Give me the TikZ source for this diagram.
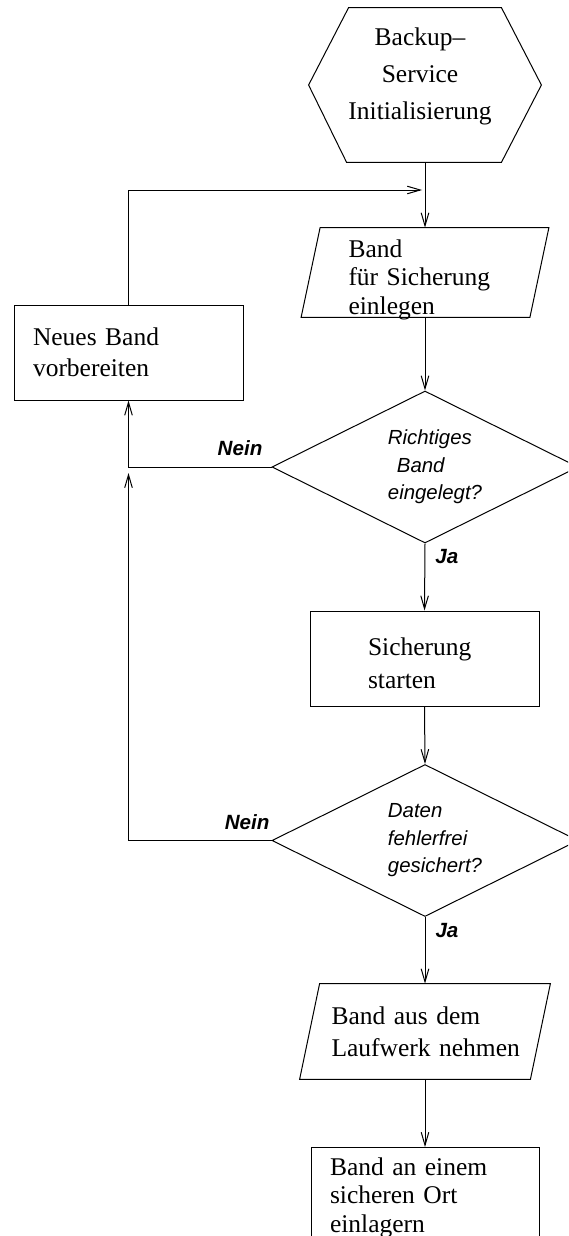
\documentclass[tikz,border=0pt]{standalone}
\usepackage{fontspec}
\setmainfont{Liberation Serif}
\setsansfont{Liberation Sans}
\usepackage{tikz}
\usetikzlibrary{positioning,arrows.meta,calc,shapes.geometric}

\newcommand{\ind}{\hspace*{10pt}}

\begin{document}
\begin{tikzpicture}[x=0.5pt, y=-0.5pt,
  txt/.style={font=\fontsize{12.75}{#1}\selectfont},
  hexbox/.style={rectangle, minimum width=116pt, minimum height=77pt, inner sep=0pt},
  proc/.style={rectangle, draw, line width=0.5pt, align=left, inner ysep=2pt},
  parabox/.style={rectangle, inner sep=0pt},
  outline/.style={line width=0.5pt},
  decision/.style={diamond, draw, line width=0.5pt, aspect=2, inner sep=0pt,
                   minimum width=153pt, minimum height=76pt, align=left,
                   font=\sffamily\itshape\fontsize{10.2}{13.75}\selectfont},
  lbl/.style={font=\sffamily\bfseries\itshape\fontsize{10.3}{12}\selectfont, inner sep=2pt},
  arw/.style={-{Straight Barb[length=6.5pt, width=3.8pt]}, line width=0.5pt}]
  \useasboundingbox (0,0) rectangle (568,1236);
  \clip (0,0) rectangle (568,1236);
  % main column
  \node[hexbox, label={[txt=18.5pt, align=center, yshift=4.5pt, xshift=-2.5pt]center:{Backup–\\Service\\Initialisierung}}]
    (init) at (425,85) {};
  \draw[outline] (init.west) -- ($(init.north west)+(40,0)$) -- ($(init.north east)+(-40,0)$)
    -- (init.east) -- ($(init.south east)+(-40,0)$) -- ($(init.south west)+(38,0)$) -- cycle;
  \node[parabox, minimum width=123.5pt, minimum height=44.5pt,
        label={[txt=14.25pt, align=left, text width=77.5pt, xshift=0.5pt, yshift=-3.5pt]center:{Band\\für Sicherung\\einlegen}}]
    (band) at (425,272.5) {};
  \draw[outline] ($(band.north west)+(19,0)$) -- (band.north east)
    -- ($(band.south east)+(-19,0)$) -- (band.south west) -- cycle;
  \node[decision] (q1) at (425,467) {\ind Richtiges\\\ind\hspace*{4.5pt}Band\\\ind eingelegt?};
  \node[proc, minimum width=114.5pt, minimum height=47.5pt,
        label={[txt=16.5pt, align=left, text width=56.5pt, yshift=-2.5pt]center:{Sicherung\\starten}}]
    (start) at (424.5,658.5) {};
  \node[decision] (q2) at (425,840.5) {\ind Daten\\\ind fehlerfrei\\\ind gesichert?};
  \node[parabox, minimum width=125pt, minimum height=47.5pt,
        label={[txt=16pt, align=left, text width=96.5pt, xshift=1.5pt]center:{Band aus dem\\Laufwerk nehmen}}]
    (take) at (425,1031.5) {};
  \draw[outline] ($(take.north west)+(20,0)$) -- (take.north east)
    -- ($(take.south east)+(-20,0)$) -- (take.south west) -- cycle;
  \node[proc, txt=14.25pt, anchor=north, minimum width=114pt, inner xsep=9.5pt, inner ysep=5pt,
        text width=95pt] (store) at (425,1147) {Band an einem\\sicheren Ort\\einlagern};
  % side box
  \node[proc, txt=15.5pt, minimum width=114.5pt, minimum height=47.5pt, inner xsep=9.5pt,
        text width=95.5pt] (neu) at (128.5,352.5) {Neues Band\\vorbereiten};
  \coordinate (merge) at (422,190);
  \coordinate (j1) at ($(neu.south |- q1.west)+(0,6)$);
  % connectors
  \draw[arw] (init.south) -- (band.north);
  \draw[arw] (band.south) -- (q1.north);
  \draw[arw] (q1.south) -- node[lbl, right=3pt, pos=0.2] {Ja} (start.north);
  \draw[arw] (start.south) -- (q2.north);
  \draw[arw] (q2.south) -- node[lbl, right=3pt, pos=0.21] {Ja} (take.north);
  \draw[arw] (take.south) -- (store.north);
  \draw[arw] (q1.west) -| node[lbl, above=3.5pt, pos=0.11] {Nein} (neu.south);
  \draw[arw] (q2.west) -| node[lbl, above=3pt, pos=0.085] {Nein} (j1);
  \draw[arw] (neu.north) |- (merge);
\end{tikzpicture}
\end{document}
